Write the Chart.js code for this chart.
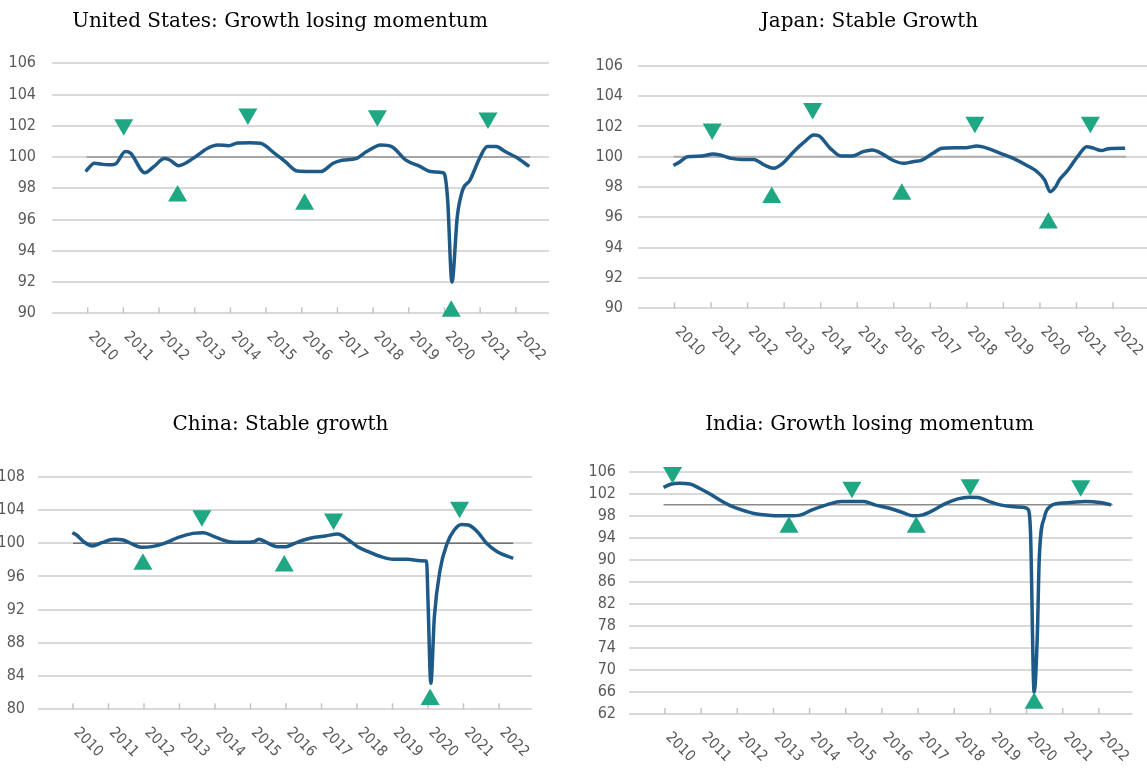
<!DOCTYPE html>
<html>
  <script src="https://cdn.jsdelivr.net/npm/chart.js"></script>
  <body style="margin:0;background:#fff">
    <div style="position:relative;width:1147px;height:768px;overflow:hidden">
      <div style="position:absolute;left:0;top:0;width:560px;height:384px"><canvas id="usChart"></canvas></div>
      <div style="position:absolute;left:575px;top:0;width:589px;height:384px"><canvas id="jpChart"></canvas></div>
      <div style="position:absolute;left:0;top:384px;width:561px;height:384px"><canvas id="cnChart"></canvas></div>
      <div style="position:absolute;left:575px;top:384px;width:589px;height:384px"><canvas id="inChart"></canvas></div>
    </div>

    <script>
      // shared
      const yearLabels = ['2010', '2011', '2012', '2013', '2014', '2015', '2016',
                          '2017', '2018', '2019', '2020', '2021', '2022'];
      const refLevel = 100;

      // United States
      const usYears = [2009.94, 2010.19, 2010.37, 2010.57, 2010.77, 2011.06, 2011.2, 2011.6, 2011.86, 2012.15,
                       2012.3, 2012.55, 2012.95, 2013.35, 2013.65, 2013.95, 2014.2, 2014.54, 2014.84, 2015.24,
                       2015.54, 2015.88, 2016.23, 2016.53, 2016.88, 2017.13, 2017.52, 2017.82, 2018.22, 2018.52,
                       2018.92, 2019.31, 2019.61, 2019.96, 2020.01, 2020.09, 2020.21, 2020.36, 2020.51, 2020.71,
                       2021.0, 2021.2, 2021.45, 2021.7, 2022.0, 2022.38];
      const usValues = [99.07, 99.6, 99.55, 99.5, 99.55, 100.35, 100.25, 99.0, 99.4, 99.9,
                        99.81, 99.45, 99.9, 100.55, 100.77, 100.73, 100.9, 100.92, 100.88, 100.24,
                        99.7, 99.1, 99.07, 99.07, 99.6, 99.8, 99.9, 100.35, 100.77, 100.67,
                        99.8, 99.4, 99.07, 99.0, 98.85, 97.25, 92.0, 96.2, 97.9, 98.5,
                        100.0, 100.67, 100.67, 100.35, 100.0, 99.4];
      const usRefSpan = [2009.97, 2022.4];
      const usPeakYears = [2011.01, 2014.49, 2018.12, 2021.22];
      const usPeakValues = [102.07, 102.76, 102.65, 102.5];
      const usTroughYears = [2012.52, 2016.08, 2020.19];
      const usTroughValues = [97.51, 96.98, 90.13];

      // Japan
      const jpYears = [2009.97, 2010.15, 2010.35, 2010.75, 2011.05, 2011.25, 2011.55, 2011.85, 2012.16, 2012.46,
                       2012.71, 2012.96, 2013.26, 2013.56, 2013.81, 2013.96, 2014.26, 2014.56, 2014.86, 2015.16,
                       2015.41, 2015.66, 2015.96, 2016.27, 2016.52, 2016.77, 2017.07, 2017.32, 2017.67, 2017.97,
                       2018.27, 2018.57, 2018.92, 2019.27, 2019.62, 2019.92, 2020.13, 2020.28, 2020.43, 2020.53,
                       2020.73, 2021.03, 2021.28, 2021.48, 2021.68, 2021.88, 2022.33];
      const jpValues = [99.41, 99.67, 100.0, 100.04, 100.18, 100.11, 99.89, 99.82, 99.82, 99.45,
                        99.23, 99.56, 100.33, 100.99, 101.43, 101.36, 100.55, 100.04, 100.04, 100.33,
                        100.44, 100.22, 99.78, 99.56, 99.67, 99.78, 100.22, 100.55, 100.59, 100.59,
                        100.7, 100.55, 100.22, 99.89, 99.45, 99.01, 98.46, 97.69, 98.02, 98.46,
                        99.01, 100.0, 100.66, 100.55, 100.4, 100.53, 100.55];
      const jpRefSpan = [2009.97, 2022.36];
      const jpPeakYears = [2011.03, 2013.78, 2018.22, 2021.38];
      const jpPeakValues = [101.82, 103.17, 102.27, 102.27];
      const jpTroughYears = [2012.66, 2016.22, 2020.23];
      const jpTroughValues = [97.3, 97.52, 95.63];

      // China
      const cnYears = [2009.98, 2010.1, 2010.3, 2010.55, 2010.81, 2011.16, 2011.41, 2011.66, 2011.92, 2012.22,
                       2012.57, 2012.97, 2013.38, 2013.68, 2013.98, 2014.39, 2014.79, 2015.09, 2015.24, 2015.45,
                       2015.75, 2016.0, 2016.2, 2016.5, 2016.81, 2017.11, 2017.46, 2017.76, 2018.02, 2018.32,
                       2018.62, 2019.02, 2019.43, 2019.78, 2019.96, 2020.0, 2020.08, 2020.18, 2020.34, 2020.54,
                       2020.74, 2020.94, 2021.14, 2021.39, 2021.65, 2021.95, 2022.4];
      const cnValues = [101.26, 100.98, 100.18, 99.66, 100.06, 100.46, 100.38, 99.9, 99.5, 99.58,
                        99.98, 100.7, 101.18, 101.26, 100.78, 100.18, 100.1, 100.18, 100.46, 100.1,
                        99.58, 99.58, 99.9, 100.38, 100.7, 100.86, 101.1, 100.38, 99.58, 98.97,
                        98.45, 98.05, 98.05, 97.89, 97.85, 93.16, 83.13, 91.15, 96.77, 99.98,
                        101.58, 102.26, 102.18, 101.38, 99.98, 98.97, 98.17];
      const cnRefSpan = [2010.0, 2022.4];
      const cnPeakYears = [2013.63, 2017.34, 2020.89];
      const cnPeakValues = [103.31, 102.91, 104.31];
      const cnTroughYears = [2011.97, 2015.95, 2020.06];
      const cnTroughValues = [97.46, 97.26, 81.19];

      // India
      const inYears = [2009.96, 2010.18, 2010.39, 2010.69, 2010.95, 2011.21, 2011.51, 2011.82, 2012.12, 2012.43,
                       2012.74, 2013.04, 2013.45, 2013.76, 2014.07, 2014.47, 2014.88, 2015.19, 2015.5, 2015.8,
                       2016.21, 2016.57, 2016.87, 2017.13, 2017.44, 2017.74, 2018.1, 2018.41, 2018.66, 2018.97,
                       2019.27, 2019.58, 2019.89, 2020.04, 2020.11, 2020.21, 2020.3, 2020.35, 2020.5, 2020.65,
                       2020.91, 2021.22, 2021.62, 2022.03, 2022.34];
      const inValues = [103.17, 103.77, 103.89, 103.77, 102.99, 102.08, 100.88, 99.8, 99.07, 98.47,
                        98.17, 97.99, 97.99, 98.17, 99.07, 99.98, 100.58, 100.58, 100.58, 99.98,
                        99.37, 98.59, 97.99, 98.17, 99.07, 100.16, 101.06, 101.36, 101.3, 100.58,
                        99.98, 99.67, 99.55, 99.19, 94.86, 65.94, 76.78, 90.04, 97.87, 99.67,
                        100.28, 100.4, 100.58, 100.4, 99.98];
      const inRefSpan = [2009.96, 2022.38];
      const inPeakYears = [2010.21, 2015.17, 2018.44, 2021.5];
      const inPeakValues = [105.87, 103.16, 103.64, 103.46];
      const inTroughYears = [2013.43, 2016.95, 2020.21];
      const inTroughValues = [95.89, 95.89, 63.96];

      const tickFont = '"Liberation Sans Narrow", "DejaVu Sans Condensed", sans-serif';
      const titleFont = '"DejaVu Serif", "Liberation Serif", serif';

      // year ticks sit on the axis line, labels run down to the right
      const yearAxis = {
        id: 'yearAxis',
        beforeDatasetsDraw(chart) {
          const ctx = chart.ctx;
          const xs = chart.scales.x;
          const bottom = chart.chartArea.bottom;
          ctx.save();
          ctx.strokeStyle = '#c4c4c4';
          ctx.lineWidth = 1.5;
          ctx.fillStyle = '#595959';
          ctx.font = '15px ' + tickFont;
          ctx.textAlign = 'left';
          ctx.textBaseline = 'middle';
          yearLabels.forEach(label => {
            const px = xs.getPixelForValue(Number(label));
            ctx.beginPath();
            ctx.moveTo(px, bottom - 6);
            ctx.lineTo(px, bottom);
            ctx.stroke();
            ctx.save();
            ctx.translate(px + 3, bottom + 21);
            ctx.rotate(Math.PI / 4);
            ctx.fillText(label, 0, 0);
            ctx.restore();
          });
          ctx.restore();
        }
      };

      function points(xs, ys) {
        return xs.map((x, i) => ({ x: x, y: ys[i] }));
      }

      function drawPanel(id, p) {
        new Chart(document.getElementById(id), {
          type: 'line',
          data: {
            datasets: [
              {
                data: points(p.refSpan, p.refSpan.map(() => refLevel)),
                borderColor: p.refColor,
                borderWidth: p.refWidth,
                pointRadius: 0,
                order: 3
              },
              {
                data: points(p.years, p.values),
                borderColor: '#1d5a87',
                borderWidth: 3.5,
                pointRadius: 0,
                cubicInterpolationMode: 'monotone',
                order: 2
              },
              {
                data: points(p.peakYears, p.peakValues),
                showLine: false,
                pointStyle: 'triangle',
                pointRotation: 180,
                pointRadius: 11,
                pointBackgroundColor: '#1fa784',
                pointBorderWidth: 0,
                clip: false,
                order: 1
              },
              {
                data: points(p.troughYears, p.troughValues),
                showLine: false,
                pointStyle: 'triangle',
                pointRotation: 0,
                pointRadius: 11,
                pointBackgroundColor: '#1fa784',
                pointBorderWidth: 0,
                clip: false,
                order: 1
              }
            ]
          },
          options: {
            responsive: true,
            maintainAspectRatio: false,
            animation: false,
            events: [],
            layout: { padding: { left: 0, right: 0, top: 0, bottom: p.bottomPad } },
            plugins: {
              legend: { display: false },
              tooltip: { enabled: false },
              title: {
                display: true,
                text: p.title,
                color: '#000',
                font: { family: titleFont, size: 20, weight: 'normal', lineHeight: 1.2 },
                padding: { top: p.titleTop, bottom: p.titleBottom }
              }
            },
            scales: {
              x: {
                type: 'linear',
                min: 2009,
                max: 2022.93,
                grid: { display: false },
                border: { display: false },
                ticks: { display: false },
                afterFit: s => { s.height = 40; }
              },
              y: {
                position: 'left',
                min: p.yMin,
                max: p.yMax,
                ticks: {
                  stepSize: p.yStep,
                  autoSkip: false,
                  padding: p.yPad,
                  color: '#595959',
                  font: { family: tickFont, size: 16 }
                },
                grid: { color: '#d9d9d9', lineWidth: 2, drawTicks: false },
                border: { display: false },
                afterFit: s => { s.width = p.yWidth; }
              },
              y2: {
                position: 'right',
                ticks: { display: false },
                grid: { display: false },
                border: { display: false },
                afterFit: s => { s.width = p.rightGap; }
              }
            }
          },
          plugins: [yearAxis]
        });
      }

      drawPanel('usChart', {
        title: 'United States: Growth losing momentum',
        years: usYears, values: usValues, refSpan: usRefSpan,
        peakYears: usPeakYears, peakValues: usPeakValues,
        troughYears: usTroughYears, troughValues: usTroughValues,
        refColor: '#a6a6a6', refWidth: 2,
        yMin: 90, yMax: 106, yStep: 2,
        yWidth: 52, yPad: 16, rightGap: 10,
        titleTop: 10, titleBottom: 29.3, bottomPad: 30.7
      });

      drawPanel('jpChart', {
        title: 'Japan: Stable Growth',
        years: jpYears, values: jpValues, refSpan: jpRefSpan,
        peakYears: jpPeakYears, peakValues: jpPeakValues,
        troughYears: jpTroughYears, troughValues: jpTroughValues,
        refColor: '#b0abab', refWidth: 2,
        yMin: 90, yMax: 106, yStep: 2,
        yWidth: 63, yPad: 15, rightGap: 17,
        titleTop: 10, titleBottom: 31.7, bottomPad: 35.7
      });

      drawPanel('cnChart', {
        title: 'China: Stable growth',
        years: cnYears, values: cnValues, refSpan: cnRefSpan,
        peakYears: cnPeakYears, peakValues: cnPeakValues,
        troughYears: cnTroughYears, troughValues: cnTroughValues,
        refColor: '#707070', refWidth: 1.5,
        yMin: 80, yMax: 108, yStep: 4,
        yWidth: 37.5, yPad: 12.5, rightGap: 29,
        titleTop: 29, titleBottom: 39.7, bottomPad: 18.7
      });

      drawPanel('inChart', {
        title: 'India: Growth losing momentum',
        years: inYears, values: inValues, refSpan: inRefSpan,
        peakYears: inPeakYears, peakValues: inPeakValues,
        troughYears: inTroughYears, troughValues: inTroughValues,
        refColor: '#8a8a8a', refWidth: 1.5,
        yMin: 62, yMax: 106, yStep: 4,
        yWidth: 53.8, yPad: 12.8, rightGap: 31.5,
        titleTop: 29, titleBottom: 34.7, bottomPad: 14
      });
    </script>
  </body>
</html>
